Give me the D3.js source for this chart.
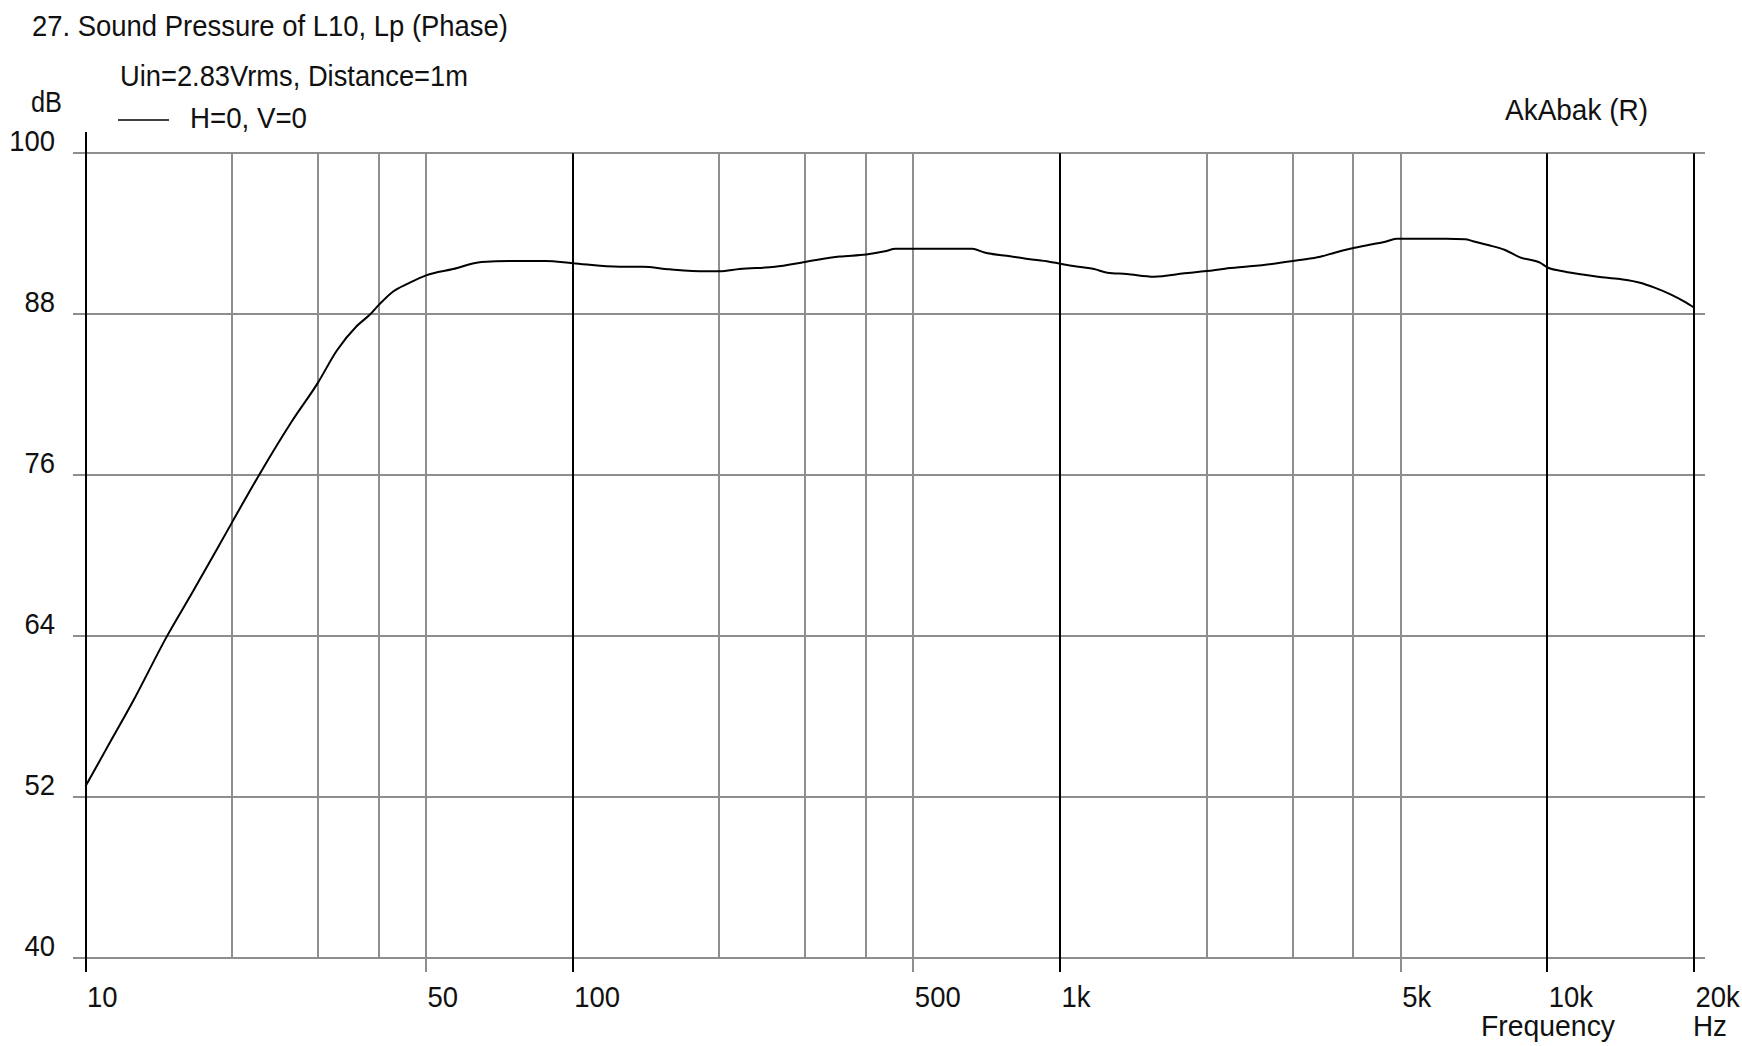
<!DOCTYPE html>
<html>
<head>
<meta charset="utf-8">
<script src="https://cdn.jsdelivr.net/npm/d3@7"></script>
<style>
  html, body { margin: 0; padding: 0; background: #fff; }
  text { font-family: "Liberation Sans", Arial, sans-serif; fill: #111; }
</style>
</head>
<body>
<div id="chart"></div>
<script>

// frequency (Hz) of the read-off points
var freqs = [10, 11, 12.5, 14.7, 16.6, 20, 22.7, 26.5, 30, 32.8, 36, 38.4, 40, 42.8, 46, 50,
  56.8, 65, 75, 88, 100, 125, 139, 158, 187, 200, 220, 260, 300, 353, 400, 437, 460, 550,
  660, 700, 790, 860, 950, 1000, 1090, 1175, 1250, 1370, 1560, 1800, 2000, 2180, 2450, 2790,
  3100, 3420, 3660, 3940, 4290, 4650, 4900, 5500, 6200, 6780, 7040, 7560, 8190, 8790, 9660,
  10000, 10700, 11600, 12700, 14100, 15500, 16600, 17900, 19200, 20000];

// sound pressure level (dB)
var spl = [52.8, 55.5, 59.1, 64.0, 67.3, 72.5, 76.0, 80.0, 82.9, 85.3, 87.1, 88.0, 88.7, 89.7, 90.3, 90.9,
  91.37, 91.9, 91.97, 91.97, 91.8, 91.54, 91.54, 91.35, 91.2, 91.2, 91.37, 91.54, 91.9, 92.3, 92.45, 92.69, 92.88, 92.88,
  92.88, 92.6, 92.32, 92.12, 91.92, 91.77, 91.54, 91.37, 91.1, 91.0, 90.8, 91.05, 91.22, 91.4, 91.57, 91.8,
  92.04, 92.29, 92.59, 92.88, 93.16, 93.4, 93.63, 93.63, 93.63, 93.6, 93.44, 93.16, 92.79, 92.24, 91.84,
  91.5, 91.22, 91.0, 90.8, 90.62, 90.35, 89.98, 89.48, 88.9, 88.5];

var yTicks = [40, 52, 64, 76, 88, 100];
var majorFreqs = [10, 100, 1000, 10000, 20000];
var minorFreqs = [20, 30, 40, 50, 200, 300, 400, 500, 2000, 3000, 4000, 5000];
var labelFreqs = [10, 50, 100, 500, 1000, 5000, 10000, 20000];
var labelText = ["10", "50", "100", "500", "1k", "5k", "10k", "20k"];

var width = 1742,
    height = 1046;

var svg = d3.select("#chart")
    .append("svg")
    .attr("width", width)
    .attr("height", height);

var x = d3.scaleLog()
    .domain([10, 20000])
    .range([85.5, 1694]);

var y = d3.scaleLinear()
    .domain([40, 100])
    .range([958, 153.3]);

var fs = 30,
    squeeze = 0.915; // the original font is narrower than Arial

function narrow(sel) {
    sel.each(function() {
        var w = this.getComputedTextLength();
        d3.select(this)
            .attr("textLength", w * squeeze)
            .attr("lengthAdjust", "spacingAndGlyphs");
    });
}

/* horizontal grid */
svg.append("g")
    .selectAll("line")
    .data(yTicks)
    .enter().append("line")
    .attr("x1", 73)
    .attr("x2", 1705)
    .attr("y1", function(d) { return Math.round(y(d)); })
    .attr("y2", function(d) { return Math.round(y(d)); })
    .attr("stroke", "#8e8e8e")
    .attr("stroke-width", 2);

/* minor vertical grid (gray) */
svg.append("g")
    .selectAll("line")
    .data(minorFreqs)
    .enter().append("line")
    .attr("x1", function(d) { return Math.round(x(d)); })
    .attr("x2", function(d) { return Math.round(x(d)); })
    .attr("y1", y(100))
    .attr("y2", function(d) { return labelFreqs.indexOf(d) >= 0 ? 972 : y(40); })
    .attr("stroke", "#8e8e8e")
    .attr("stroke-width", 2);

/* decade lines (black) */
svg.append("g")
    .selectAll("line")
    .data(majorFreqs)
    .enter().append("line")
    .attr("x1", function(d) { return Math.round(x(d)); })
    .attr("x2", function(d) { return Math.round(x(d)); })
    .attr("y1", function(d) { return d == 10 ? 132 : y(100); })
    .attr("y2", 972)
    .attr("stroke", "#000")
    .attr("stroke-width", 2);

/* y axis labels */
var yAxis = d3.axisLeft(y)
    .tickValues(yTicks)
    .tickSize(0)
    .tickPadding(0);

var gy = svg.append("g")
    .attr("transform", "translate(55,0)")
    .call(yAxis);
gy.select(".domain").remove();
gy.selectAll("text")
    .attr("dy", "-3")
    .attr("y", 0)
    .attr("font-size", fs)
    .attr("font-family", null)
    .attr("text-anchor", "end")
    .call(narrow);

/* x axis labels */
var xAxis = d3.axisBottom(x)
    .tickValues(labelFreqs)
    .tickFormat(function(d, i) { return labelText[i]; })
    .tickSize(0)
    .tickPadding(0);

var gx = svg.append("g")
    .call(xAxis);
gx.select(".domain").remove();
gx.selectAll("text")
    .attr("x", 1)
    .attr("y", 1006.5)
    .attr("dy", null)
    .attr("font-size", fs)
    .attr("font-family", null)
    .attr("text-anchor", "start")
    .call(narrow);

/* response curve */
var line = d3.line()
    .x(function(d, i) { return x(freqs[i]); })
    .y(function(d) { return y(d); })
    .curve(d3.curveMonotoneX);

svg.append("path")
    .datum(spl)
    .attr("d", line)
    .attr("fill", "none")
    .attr("stroke", "#000")
    .attr("stroke-width", 2);

/* texts */
function label(txt, tx, ty, len) {
    return svg.append("text")
        .attr("x", tx)
        .attr("y", ty)
        .attr("font-size", fs)
        .attr("textLength", len)
        .attr("lengthAdjust", "spacingAndGlyphs")
        .text(txt);
}

label("27. Sound Pressure of L10, Lp (Phase)", 32, 36, 476);
label("Uin=2.83Vrms, Distance=1m", 120, 86, 348);
label("dB", 31, 112, 31);
label("H=0, V=0", 190, 128, 117);
label("AkAbak (R)", 1505, 120, 143);
label("Frequency", 1481, 1036, 134);
label("Hz", 1693, 1036, 34);

// legend swatch
svg.append("line")
    .attr("x1", 118)
    .attr("x2", 169)
    .attr("y1", 120)
    .attr("y2", 120)
    .attr("stroke", "#000")
    .attr("stroke-width", 1.5);

</script>
</body>
</html>
